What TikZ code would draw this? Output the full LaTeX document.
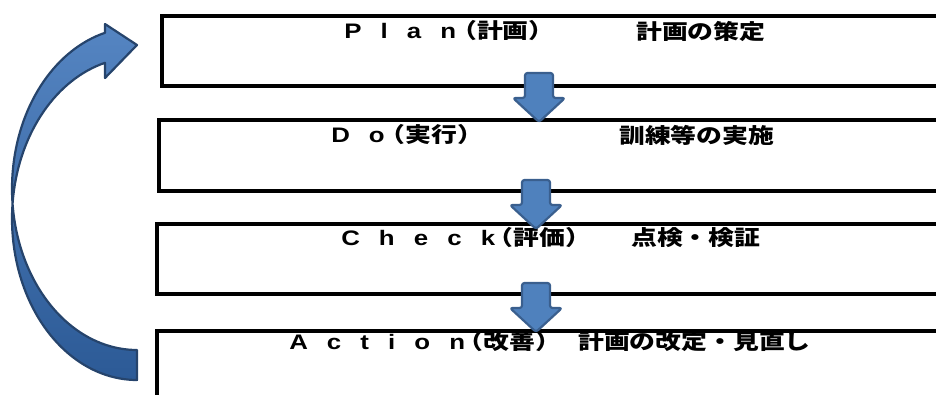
\documentclass[tikz,border=0pt]{standalone}
\usepackage{fontspec}
\setmainfont{Noto Sans CJK JP}
\newfontfamily\latfont{Liberation Sans}[LetterSpace=74]
\definecolor{arrfill}{HTML}{4F81BD}
\definecolor{arrline}{HTML}{3A5F8E}
\definecolor{curvetop}{HTML}{5585C2}
\definecolor{curvebot}{HTML}{2C5A96}
\definecolor{curveline}{HTML}{26446C}
\tikzset{
  stage/.style={draw=black, line width=3.5pt, inner sep=0pt, anchor=north west, minimum width=820pt},
  lbl/.style={font=\bfseries\fontsize{21}{21}\selectfont, inner sep=0pt, anchor=west, xscale=1.23},
  darrow/.style={fill=arrfill, draw=arrline, line width=2.2pt, rounded corners=2.5pt, line join=round},
  pics/downarr/.style={code={
    \draw[darrow] (-14,25) -- (-14,0) -- (14,0) -- (14,25) -- (26,25) -- (0,49) -- (-26,25) -- cycle;
  }}
}
\newcommand\spc[1]{{\latfont\bfseries #1}}
\begin{document}
\begin{tikzpicture}[x=1pt,y=-1pt]
\useasboundingbox (0,0) rectangle (936,394);
\clip (0,0) rectangle (936,394);
% stage boxes
\node[stage, minimum height=70pt] (plan) at (160,14) {};
\node[stage, minimum height=71pt] (do) at (157,118) {};
\node[stage, minimum height=70pt] (check) at (155,222) {};
\node[stage, minimum height=90pt] (action) at (155,329) {};
% labels
\node[lbl] (plant) at (344,31) {\spc{Plan}\hspace{-4pt}（計画）};
\node[lbl] (pland) at (636,31) {計画の策定};
\node[lbl] (dot) at (331,135) {\spc{Do}\hspace{-4pt}（実行）};
\node[lbl] (dod) at (619,135) {訓練等の実施};
\node[lbl] (checkt) at (341,238) {\spc{Check}\hspace{-6pt}（評価）};
\node[lbl] (checkd) at (631,238) {点検・検証};
\node[lbl] (actiont) at (289,342) {\spc{Action}\hspace{-6pt}（改善）};
\node[lbl] (actiond) at (578,342) {計画の改定・見直し};
% down arrows between stages
\path (539,73) pic (a1) {downarr};
\path (536,180) pic (a2) {downarr};
\path (536,283) pic (a3) {downarr};
% curved return arrow
\shade[top color=curvetop, bottom color=curvebot, draw=curveline, line width=2.2pt, line join=round]
  plot[domain=90:255.17, samples=80] ({137+125*cos(\x)},{188.7+161.3*sin(\x)})
  -- (105,24) -- (137,45) -- (105,78)
  -- plot[domain=255.17:90, samples=80] ({137+125*cos(\x)},{218.7+161.3*sin(\x)})
  -- cycle;
\end{tikzpicture}
\end{document}
